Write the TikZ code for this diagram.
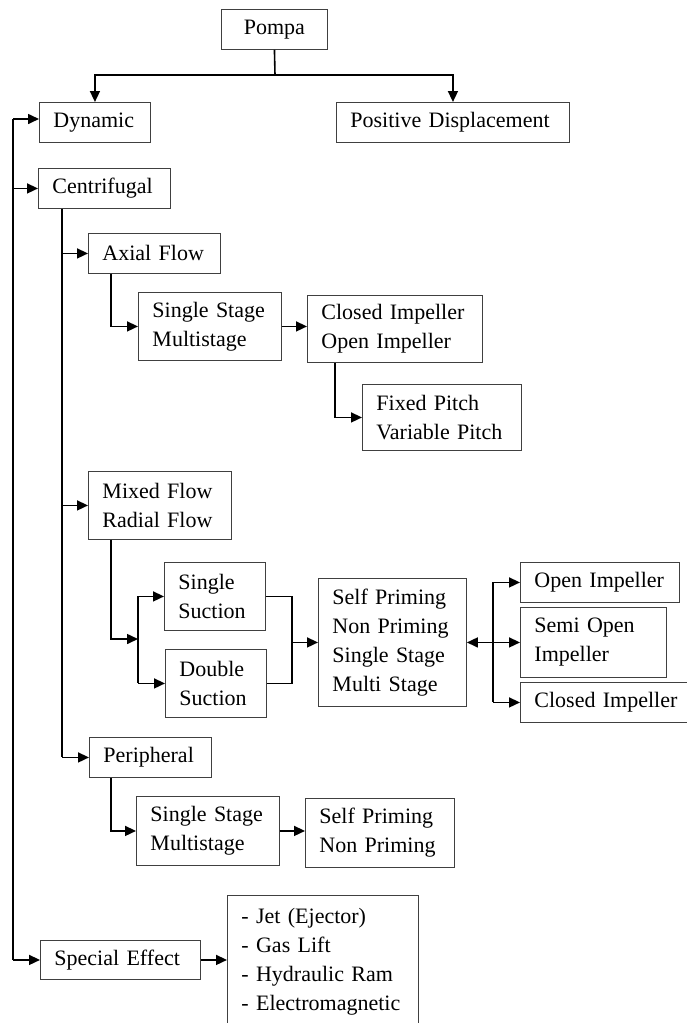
\documentclass[tikz,border=0pt]{standalone}
\usepackage{fontspec}
\setmainfont{Liberation Serif}
\usetikzlibrary{arrows.meta}
\hyphenpenalty=10000
\exhyphenpenalty=10000
\begin{document}
\begin{tikzpicture}[x=1pt,y=-1pt,
  box/.style={draw=black!75, line width=0.9pt, anchor=north west, inner xsep=14pt, inner ysep=0pt, align=left, font=\fontsize{22}{29}\selectfont},
  conn/.style={line width=1.6pt, line join=miter},
  arr/.style={conn, -{Triangle[length=11pt,width=10pt]}},
  darr/.style={conn, {Triangle[length=11pt,width=10pt]}-{Triangle[length=11pt,width=10pt]}}]
\useasboundingbox (0,0) rectangle (686,1023);
% nodes
\node[box, align=center, text width=78pt, minimum height=40pt] (pompa) at (221,9) {Pompa};
\node[box, text width=83pt, minimum height=40pt] (dyn) at (39,102) {Dynamic};
\node[box, text width=205pt, minimum height=40pt] (pd) at (336,102) {Positive Displacement};
\node[box, text width=104pt, minimum height=40pt] (cent) at (38,168) {Centrifugal};
\node[box, text width=104pt, minimum height=40pt] (axial) at (88,233) {Axial Flow};
\node[box, text width=115pt, minimum height=68pt] (ssa) at (138,292) {Single Stage\\Multistage};
\node[box, text width=147pt, minimum height=67pt] (cia) at (307,295) {Closed Impeller\\Open Impeller};
\node[box, text width=131pt, minimum height=66pt] (fp) at (362,384) {Fixed Pitch\\Variable Pitch};
\node[box, text width=115pt, minimum height=68pt] (mixed) at (88,471) {Mixed Flow\\Radial Flow};
\node[box, text width=73pt, minimum height=68pt] (ssuc) at (164,562) {Single\\Suction};
\node[box, text width=73pt, minimum height=68pt] (dsuc) at (165,649) {Double\\Suction};
\node[box, text width=120pt, minimum height=128pt] (sp) at (318,578) {Self Priming\\Non Priming\\Single Stage\\Multi Stage};
\node[box, text width=131pt, minimum height=40pt] (oi) at (520,562) {Open Impeller};
\node[box, text width=118pt, minimum height=70pt] (soi) at (520,607) {Semi Open\\Impeller};
\node[box, text width=160pt, minimum height=40pt] (cimp) at (520,682) {Closed Impeller};
\node[box, text width=94pt, minimum height=40pt] (peri) at (89,737) {Peripheral};
\node[box, text width=115pt, minimum height=69pt] (ssb) at (136,796) {Single Stage\\Multistage};
\node[box, text width=121pt, minimum height=69pt] (spb) at (305,798) {Self Priming\\Non Priming};
\node[box, text width=132pt, minimum height=39pt] (se) at (40,940) {Special Effect};
\node[box, text width=163pt, minimum height=132pt] (list) at (227,895) {- Jet (Ejector)\\- Gas Lift\\- Hydraulic Ram\\- Electromagnetic};
% helper coordinates
\coordinate (tee) at (275,75);
\coordinate (sx) at (13,0);
\coordinate (cx) at (62,0);
\coordinate (ax) at (111,0);
\coordinate (bx) at (138,0);
\coordinate (mx) at (292,0);
\coordinate (rx) at (493,0);
\coordinate (fx) at (335,0);
\coordinate (split) at (138,639);
\coordinate (dynin) at (39,119);
% top
\draw[conn] (pompa.south) -- (tee);
\draw[arr] (tee) -| (dyn.north);
\draw[arr] (tee) -| (pd.north);
% spine
\draw[conn] (sx |- dynin) -- (sx |- se.west);
\draw[arr] (sx |- dynin) -- (dynin);
\draw[arr] (sx |- cent.west) -- (cent.west);
\draw[arr] (sx |- se.west) -- (se.west);
\draw[arr] (se.east) -- (se.east -| list.west);
% centrifugal
\draw[conn] (cx |- cent.south) -- (cx |- peri.west);
\draw[arr] (cx |- axial.west) -- (axial.west);
\draw[arr] (cx |- mixed.west) -- (mixed.west);
\draw[arr] (cx |- peri.west) -- (peri.west);
% axial
\draw[arr] (ax |- axial.south) |- (ssa.west);
\draw[arr] (ssa.east) -- (ssa.east -| cia.west);
\draw[arr] (fx |- cia.south) |- (fp.west);
% mixed
\draw[arr] (ax |- mixed.south) |- (split);
\draw[conn] (bx |- ssuc.west) -- (bx |- dsuc.west);
\draw[arr] (bx |- ssuc.west) -- (ssuc.west);
\draw[arr] (bx |- dsuc.west) -- (dsuc.west);
\draw[conn] (ssuc.east) -- (mx |- ssuc.east) -- (mx |- dsuc.east) -- (dsuc.east);
\draw[arr] (mx |- sp.west) -- (sp.west);
\draw[darr] (sp.east) -- (sp.east -| soi.west);
\draw[conn] (rx |- oi.west) -- (rx |- cimp.west);
\draw[arr] (rx |- oi.west) -- (oi.west);
\draw[arr] (rx |- cimp.west) -- (cimp.west);
% peripheral
\draw[arr] (ax |- peri.south) |- (ssb.west);
\draw[arr] (ssb.east) -- (ssb.east -| spb.west);
\end{tikzpicture}
\end{document}
